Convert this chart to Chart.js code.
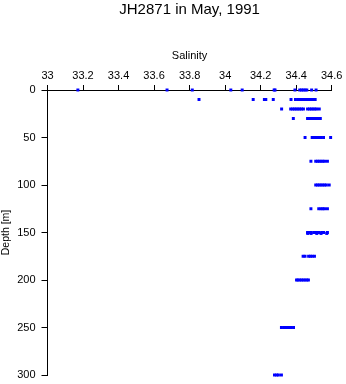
<!DOCTYPE html>
<html>
  <head>
    <meta charset="utf-8">
    <title>JH2871 in May, 1991</title>
    <style>
      html, body { margin: 0; padding: 0; background: #fff; }
      #wrap { position: relative; width: 346px; height: 384px; }
    </style>
  </head>
  <body>
    <div id="wrap"><canvas id="chart"></canvas></div>
    <script src="https://cdn.jsdelivr.net/npm/chart.js@4/dist/chart.umd.min.js"></script>
    <script>
      // salinity readings at each sampling depth (several casts per depth)
      const depths = [0, 10, 20, 30, 50, 75, 100, 125, 150, 151, 175, 200, 250, 300];
      const sal0 = [33.171, 33.673, 33.815, 34.032, 34.096, 34.276, 34.281, 34.393, 34.42, 34.43, 34.44, 34.45, 34.46, 34.487, 34.512];
      const sal10 = [33.853, 34.158, 34.221, 34.229, 34.271, 34.371, 34.396, 34.41, 34.42, 34.43, 34.44, 34.45, 34.46, 34.47, 34.48, 34.49, 34.50, 34.507];
      const sal20 = [34.318, 34.369, 34.38, 34.39, 34.40, 34.41, 34.42, 34.43, 34.441, 34.464, 34.475, 34.485, 34.495, 34.505, 34.515, 34.53];
      const sal30 = [34.384, 34.464, 34.475, 34.485, 34.495, 34.505, 34.515, 34.525, 34.536];
      const sal50 = [34.45, 34.49, 34.50, 34.51, 34.52, 34.53, 34.54, 34.554, 34.594];
      const sal75 = [34.483, 34.51, 34.52, 34.53, 34.54, 34.55, 34.56, 34.576];
      const sal100 = [34.51, 34.52, 34.53, 34.54, 34.55, 34.56, 34.57, 34.586];
      const sal125 = [34.483, 34.527, 34.54, 34.55, 34.56, 34.576];
      const sal150 = [34.464, 34.475, 34.485, 34.50, 34.51, 34.52, 34.53, 34.545, 34.555, 34.576];
      const sal151 = [34.465, 34.484, 34.516, 34.54, 34.572];
      const sal175 = [34.439, 34.45, 34.47, 34.48, 34.49, 34.503];
      const sal200 = [34.402, 34.41, 34.42, 34.43, 34.44, 34.45, 34.46, 34.469];
      const sal250 = [34.317, 34.33, 34.34, 34.35, 34.36, 34.37, 34.385];
      const sal300 = [34.278, 34.29, 34.30, 34.317];
      const salinity = [sal0, sal10, sal20, sal30, sal50, sal75, sal100, sal125, sal150, sal151, sal175, sal200, sal250, sal300];

      const salinityTicks = [33, 33.2, 33.4, 33.6, 33.8, 34, 34.2, 34.4, 34.6];
      const depthTicks = [0, 50, 100, 150, 200, 250, 300];

      let points = [];
      for (let i = 0; i < depths.length; i++) {
        for (let s of salinity[i]) points.push({x: s, y: depths[i]});
      }

      Chart.defaults.font.family = "'Liberation Sans', Arial, sans-serif";
      Chart.defaults.color = '#000';

      new Chart(document.querySelector('#chart'), {
        type: 'scatter',
        data: {
          datasets: [{
            data: points,
            clip: false,
            pointStyle: 'rect',
            pointRadius: 2.1,
            pointBorderWidth: 0,
            backgroundColor: '#0000ff',
            borderColor: '#0000ff'
          }]
        },
        options: {
          responsive: true,
          maintainAspectRatio: false,
          animation: false,
          layout: { padding: { left: 0, right: 14.3, top: 0, bottom: 9 } },
          plugins: {
            legend: { display: false },
            tooltip: { enabled: false },
            title: {
              display: true,
              fullSize: false,
              text: 'JH2871 in May, 1991',
              color: '#000',
              font: { size: 15, weight: 'normal' },
              padding: { top: 1, bottom: 0 }
            }
          },
          scales: {
            x: {
              type: 'linear',
              position: 'top',
              min: 33,
              max: 34.6,
              title: { display: true, text: 'Salinity', font: { size: 11 }, padding: { top: 30, bottom: 0 } },
              ticks: { font: { size: 11 }, padding: 2, maxRotation: 0, autoSkip: false, callback: v => String(v) },
              grid: { drawOnChartArea: false, drawTicks: true, tickLength: 5, color: '#000' },
              border: { display: true, color: '#000' },
              afterBuildTicks: s => { s.ticks = salinityTicks.map(v => ({ value: v })); },
              afterFit: s => { s.height = 71; s.paddingLeft = 0; s.paddingRight = 0; }
            },
            y: {
              type: 'linear',
              reverse: true,
              min: 0,
              max: 300,
              title: { display: true, text: 'Depth [m]', font: { size: 10.5 }, padding: { top: 0, bottom: 0 } },
              ticks: { font: { size: 11 }, padding: 6, autoSkip: false },
              grid: { drawOnChartArea: false, drawTicks: true, tickLength: 6, color: '#000' },
              border: { display: true, color: '#000' },
              afterBuildTicks: s => { s.ticks = depthTicks.map(v => ({ value: v })); },
              afterFit: s => { s.width = 47.5; s.paddingTop = 0; s.paddingBottom = 0; }
            }
          }
        }
      });
    </script>
  </body>
</html>
